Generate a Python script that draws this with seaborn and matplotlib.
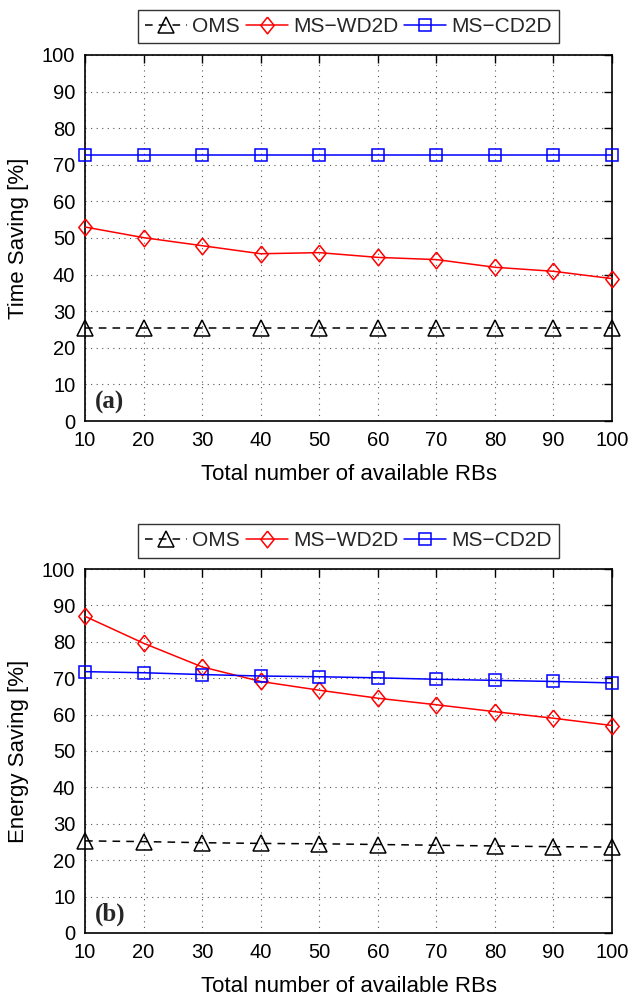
import matplotlib
matplotlib.use("Agg")
import matplotlib.pyplot as plt
import seaborn as sns
import pandas as pd

rbs = [10, 20, 30, 40, 50, 60, 70, 80, 90, 100]

time_oms = [25.4, 25.4, 25.4, 25.4, 25.4, 25.4, 25.4, 25.4, 25.4, 25.4]
time_wd2d = [53.0, 50.1, 47.9, 45.7, 46.0, 44.7, 44.1, 42.0, 40.9, 38.9]
time_cd2d = [72.6, 72.6, 72.6, 72.6, 72.6, 72.6, 72.6, 72.6, 72.6, 72.6]

energy_oms = [25.3, 25.1, 24.8, 24.6, 24.5, 24.3, 24.1, 23.9, 23.7, 23.6]
energy_wd2d = [87.0, 79.6, 73.1, 69.1, 66.7, 64.5, 62.7, 60.8, 59.0, 57.0]
energy_cd2d = [71.8, 71.5, 71.0, 70.6, 70.4, 70.1, 69.7, 69.4, 69.1, 68.7]

series_names = ["OMS", "MS\u2212WD2D", "MS\u2212CD2D"]
yticks = list(range(0, 101, 10))
xlabel = "Total number of available RBs"

sns.set_theme(style="white")
plt.rcParams['font.family'] = ['Liberation Sans', 'DejaVu Sans']

fig = plt.figure(figsize=(6.28, 9.96), dpi=100)
ax1 = fig.add_axes([0.1354, 0.5773, 0.8392, 0.3675])
ax2 = fig.add_axes([0.1354, 0.0633, 0.8392, 0.3654])

diamond = [(0, 1), (0.8, 0), (0, -1), (-0.8, 0), (0, 1)]

styles = [
    dict(color="black", marker="^", linestyle=(0, (5, 4)), markersize=11),
    dict(color="red", marker=diamond, linestyle="-", markersize=12),
    dict(color="blue", marker="s", linestyle="-", markersize=8),
]

def draw(ax, vals, ylabel, tag):
    for name, v, st in zip(series_names, vals, styles):
        df = pd.DataFrame({"x": rbs, "y": v})
        sns.lineplot(data=df, x="x", y="y", ax=ax, color=st["color"],
                     marker=st["marker"], linestyle=st["linestyle"],
                     markersize=st["markersize"], markerfacecolor="none",
                     markeredgecolor=st["color"], markeredgewidth=1.1,
                     linewidth=1.1, label=name, clip_on=False, zorder=3)
    ax.set_xlim(10, 100)
    ax.set_ylim(0, 100)
    ax.set_xticks(rbs)
    ax.set_yticks(yticks)
    ax.grid(True, color="#555555", linestyle=(0, (1, 4)), linewidth=0.8)
    for s in ax.spines.values():
        s.set_color("black")
        s.set_linewidth(1.2)
    ax.tick_params(direction="in", length=6, width=1, top=True, right=True,
                   labelsize=14.5, colors="black", pad=7)
    ax.set_xlabel(xlabel, fontsize=16, color="black", labelpad=10)
    ax.set_ylabel(ylabel, fontsize=16, color="black", labelpad=9)
    ax.text(0.018, 0.02, tag, transform=ax.transAxes, fontsize=18,
            fontweight="bold", family="Liberation Serif", va="bottom", ha="left")
    leg = ax.legend(loc="lower center", bbox_to_anchor=(0.5, 1.02), ncol=3,
                    frameon=True, fancybox=False, edgecolor="black",
                    fontsize=15, handlelength=2.0, columnspacing=0.3,
                    handletextpad=0.25, borderpad=0.35, borderaxespad=0.2)
    leg.get_frame().set_linewidth(1.0)

draw(ax1, [time_oms, time_wd2d, time_cd2d], "Time Saving [%]", "(a)")
draw(ax2, [energy_oms, energy_wd2d, energy_cd2d], "Energy Saving [%]", "(b)")

fig.savefig("out.png", dpi=100)
